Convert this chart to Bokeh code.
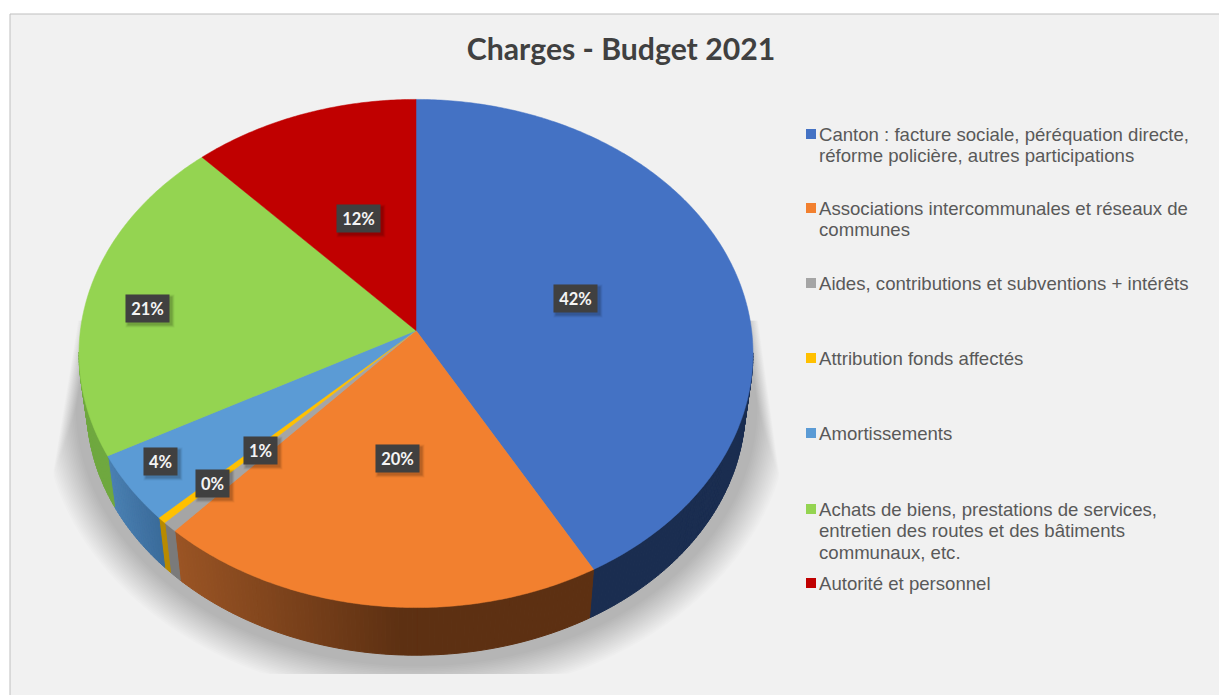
import numpy as np
from bokeh.plotting import figure
from bokeh.models import Range1d, ColumnDataSource
from bokeh.core.properties import value
from bokeh.embed import file_html
from bokeh.resources import INLINE

# ---- data ----
title_text = "Charges - Budget 2021"
categories = [
    ["Canton : facture sociale, péréquation directe,", "réforme policière, autres participations"],
    ["Associations intercommunales et réseaux de", "communes"],
    ["Aides, contributions et subventions + intérêts"],
    ["Attribution fonds affectés"],
    ["Amortissements"],
    ["Achats de biens, prestations de services,", "entretien des routes et des bâtiments", "communaux, etc."],
    ["Autorité et personnel"],
]
shares = [41.9, 19.8, 0.65, 0.4, 4.35, 21.0, 11.9]
top_colors = ["#4472c4", "#f2802f", "#a5a5a5", "#ffc000", "#5b9bd5", "#94d451", "#c00000"]
# side colours: (left end, right end) of the horizontal gradient
side_left = ["#1a2d50", "#9a5424", "#7a7a7a", "#b88a00", "#4a80b2", "#6fa83f", "#8a0000"]
side_right = ["#1a2d50", "#5d3012", "#7a7a7a", "#b88a00", "#3a6b9a", "#6fa83f", "#8a0000"]

# ---- layout ----
W, H = 1219, 695
CX, CY = 415.5, 330
A, B, K = 335.6, 252.0, 0.0905   # projective mapping of the pie disc
DEPTH, SHRINK = 54.0, 0.977
legend_x = 818.5
legend_marker_x = 810.5
legend_line_y = [[133.5, 154.5], [207.5, 228.5], [282.5], [357.5], [432.5], [508.5, 529.5, 551.5], [582.5]]
label_x = [575, 397, 260, 212, 160, 147, 358]
label_y = [298, 458, 450, 483, 461, 308, 218]


def hexrgb(c):
    return np.array([int(c[i:i + 2], 16) for i in (1, 3, 5)], float)


def tohex(v):
    return "#%02x%02x%02x" % tuple(int(round(t)) for t in v)


def top(theta):
    x, y = np.sin(theta), np.cos(theta)
    w = 1 + K * y
    return CX + A * x / w, CY - B * y / w


def bottom(theta):
    x, y = np.sin(theta), np.cos(theta)
    w = 1 + K * y
    return CX + SHRINK * A * x / w, CY + DEPTH - SHRINK * B * y / w


def inside_top(x, y):
    return ((x - CX) / 337.0) ** 2 + ((y - 353) / 254.0) ** 2 < 1


p = figure(width=W, height=H, output_backend="svg", toolbar_location=None,
           x_range=Range1d(0, W), y_range=Range1d(H, 0),
           x_axis_type=None, y_axis_type=None, min_border=0,
           background_fill_color="white", border_fill_color="white", outline_line_color=None)
p.grid.visible = False

# panel
p.quad(left=[9.5], right=[1225], top=[13.5], bottom=[700], fill_color="#f1f1f1",
       line_color="#bfbfbf", line_width=1)

# soft drop shadow: stacked translucent ellipses, cut by the shadow's clip shape
t = np.linspace(0, 2 * np.pi, 300)
n_layers = 20
for i in range(n_layers):
    g = i / (n_layers - 1)
    rx = 374 - 33 * g
    ry = 293 - 33 * g
    sx = 416 + rx * np.cos(t)
    sy = 406 + ry * np.sin(t)
    sy = np.minimum(sy, 673.5)
    sy = np.maximum(sy, 320)
    xl = 80 - (sy - 330) * 0.165 - 4 + 12 * g
    xr = 755 + (sy - 330) * 0.138 + 4 - 12 * g
    sx = np.clip(sx, xl, xr)
    p.patch(sx, sy, fill_color="black", fill_alpha=0.0118, line_color=None)

edges = np.cumsum([0] + shares) / sum(shares) * 2 * np.pi

# side walls; only the strips that show below the top face
xs, ys, cols = [], [], []
for i in range(len(shares)):
    n = max(2, int((edges[i + 1] - edges[i]) / 0.012))
    th = np.linspace(edges[i], edges[i + 1], n + 1)
    tx, ty = top(th)
    bx, by = bottom(th)
    cl, cr = hexrgb(side_left[i]), hexrgb(side_right[i])
    lo, hi = bx.min(), bx.max()
    if i == 1:
        hi = 400   # orange gradient reaches its dark end before the slice's right end
    for j in range(n):
        if inside_top(bx[j], by[j]) and inside_top(bx[j + 1], by[j + 1]):
            continue
        f = np.clip((0.5 * (bx[j] + bx[j + 1]) - lo) / max(hi - lo, 1), 0, 1)
        xs.append([tx[j], tx[j + 1], bx[j + 1], bx[j]])
        ys.append([ty[j], ty[j + 1], by[j + 1], by[j]])
        cols.append(tohex(cl + (cr - cl) * f))
p.patches("xs", "ys", source=ColumnDataSource(dict(xs=xs, ys=ys, c=cols)),
          fill_color="c", line_color="c", line_width=1.0)

# top faces
xs, ys = [], []
for i in range(len(shares)):
    th = np.linspace(edges[i], edges[i + 1], max(3, int((edges[i + 1] - edges[i]) / 0.01)))
    tx, ty = top(th)
    xs.append([CX] + list(tx))
    ys.append([CY] + list(ty))
p.patches("xs", "ys", source=ColumnDataSource(dict(xs=xs, ys=ys, c=top_colors)),
          fill_color="c", line_color="c", line_width=0.5)

# data labels
for i, v in enumerate(shares):
    txt = f"{round(v)}%"
    w = 44 if len(txt) == 3 else 34
    for grow, a in ((5, 0.05), (3, 0.08), (1, 0.12)):
        p.rect([label_x[i] + 2.5], [label_y[i] + 2.5], width=w + grow, height=28 + grow,
               fill_color="black", fill_alpha=a, line_color=None)
    p.rect([label_x[i]], [label_y[i]], width=w, height=28, fill_color="#404040", line_color=None)
    p.text([label_x[i]], [label_y[i] + 0.5], text=[txt], text_align="center", text_baseline="middle",
           text_font=value("Lato"), text_font_style="bold", text_font_size="16.5px", text_color="#f4f4f4")

# title
p.text([620.5], [47.5], text=[title_text], text_align="center", text_baseline="middle",
       text_font=value("Lato"), text_font_style="bold", text_font_size="30.2px", text_color="#404040")

# legend
for i, lines in enumerate(categories):
    p.scatter([legend_marker_x], [legend_line_y[i][0]], marker="square", size=10,
              fill_color=top_colors[i], line_color=None)
    for s, y in zip(lines, legend_line_y[i]):
        p.text([legend_x], [y], text=[s], text_align="left", text_baseline="middle",
               text_font=value("Liberation Sans"), text_font_size="18.6px", text_color="#595959")

open("out.html", "w").write(file_html(p, INLINE))
